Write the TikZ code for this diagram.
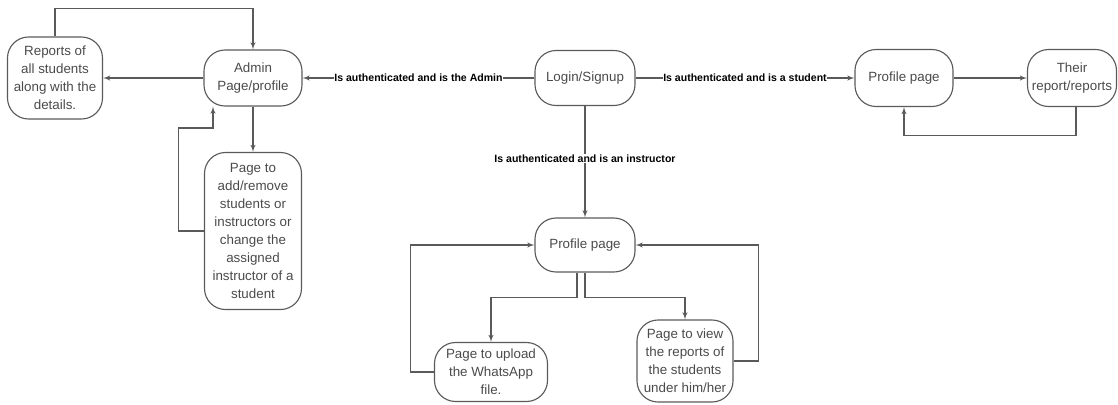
\documentclass[tikz,border=0pt]{standalone}
\usepackage{fontspec}
\setmainfont{Liberation Sans}
\usepackage{tikz}
\usetikzlibrary{arrows}

\definecolor{ln}{HTML}{5A5A5A}
\definecolor{tx}{HTML}{4A4A4A}

\begin{document}
\begin{tikzpicture}[
		x=0.025cm, y=-0.025cm,
		box/.style={draw=ln,line width=0.8pt,rounded corners=15pt,align=center,inner sep=1pt,text=tx,font=\fontsize{9.5}{12.8}\selectfont},
		lbl/.style={fill=white,inner sep=0.5pt,text=black,font=\fontsize{7.5}{9}\selectfont\bfseries},
		conn/.style={->,line width=0.75pt,draw=ln},
		>=latex']
	\useasboundingbox (0,0) rectangle (1118,404);
	%% admin side
	\node (reports) at (55,78) [box,minimum width=2.375cm,minimum height=2.05cm] {Reports of\\all students\\along with the\\details.};
	\node (admin) at (253,78) [box,minimum width=2.45cm,minimum height=1.4cm] {Admin\\Page/profile};
	\node (addpage) at (253,231) [box,minimum width=2.425cm,minimum height=3.925cm] {Page to\\add/remove\\students or\\instructors or\\change the\\assigned\\instructor of a\\student};
	%% login
	\node (login) at (585,78) [box,minimum width=2.5cm,minimum height=1.375cm] {Login/Signup};
	%% student side
	\node (sprofile) at (904,78) [box,minimum width=2.45cm,minimum height=1.425cm] {Profile page};
	\node (sreports) at (1072,78) [box,minimum width=2.225cm,minimum height=1.425cm] {Their\\report/reports};
	%% instructor side
	\node (iprofile) at (585,245) [box,minimum width=2.5cm,minimum height=1.35cm] {Profile page};
	\node (upload) at (491,372) [box,minimum width=2.825cm,minimum height=1.475cm] {Page to upload\\the WhatsApp\\file.};
	\node (view) at (685,361) [box,minimum width=2.4cm,minimum height=2.05cm] {Page to view\\the reports of\\the students\\under him/her};
	\coordinate (aback) at (213,128);
	%% arrows
	\draw[conn] (login.west) -- node[lbl] {Is authenticated and is the Admin} (admin.east);
	\draw[conn] (login.east) -- node[lbl] {Is authenticated and is a student} (sprofile.west);
	\draw[conn] (login.south) -- node[lbl,pos=0.47] {Is authenticated and is an instructor} (iprofile.north);
	\draw[conn] (admin.west) -- (reports.east);
	\draw[conn] (reports.north) -- ++(0,-28) -| (admin.north);
	\draw[conn] (admin.south) -- (addpage.north);
	\draw[conn] (addpage.west) -- ++(-25,0) |- (aback) -- (aback |- admin.south);
	\draw[conn] (sprofile.east) -- (sreports.west);
	\draw[conn] (sreports.south) ++(4,0) -- ++(0,28) -| (sprofile.south);
	\draw[conn] (iprofile.south) ++(-8,0) -- ++(0,25) -| (upload.north);
	\draw[conn] (iprofile.south) -- ++(0,25) -| (view.north);
	\draw[conn] (upload.west) -- ++(-23,0) |- (iprofile.west);
	\draw[conn] (view.east) -- ++(25,0) |- (iprofile.east);
\end{tikzpicture}
\end{document}
